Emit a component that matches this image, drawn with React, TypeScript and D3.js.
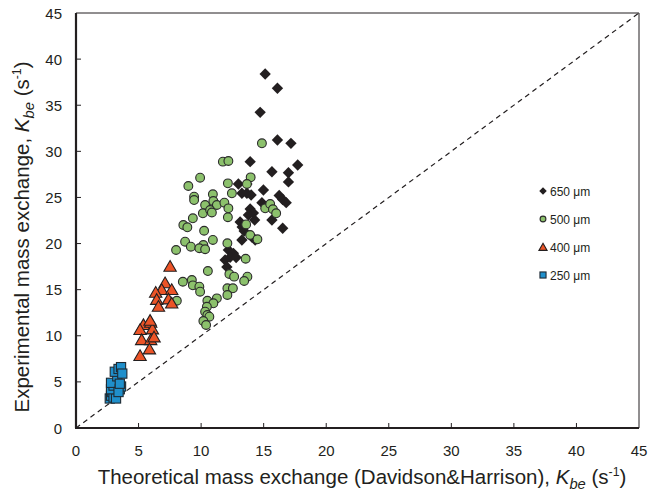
import * as d3 from 'd3'

const p650: [number, number][] = [
  [15.12, 38.39], [16.1, 36.84], [14.72, 34.23], [16.1, 31.23], [17.18, 30.87],
  [13.92, 28.88], [15.66, 27.79], [16.98, 27.68], [17.72, 28.52], [16.98, 26.68],
  [14.98, 25.81], [12.98, 26.46], [13.66, 26.46], [13.26, 25.45], [13.66, 25.45],
  [14.0, 25.27], [16.24, 25.21], [16.52, 24.78], [16.8, 24.43], [14.86, 24.43],
  [13.92, 23.75], [14.18, 23.31], [13.78, 23.1], [14.28, 22.55], [15.66, 22.55],
  [16.52, 21.66], [13.12, 22.34], [13.28, 21.8], [13.44, 21.36], [13.26, 20.39],
  [14.06, 20.71], [14.32, 20.39], [12.18, 19.3], [12.58, 18.94], [12.32, 18.51],
  [12.8, 18.49], [11.92, 18.22], [12.06, 17.46],
]

const p500: [number, number][] = [
  [14.86, 30.87], [11.74, 28.88], [12.18, 28.95], [9.92, 27.14], [13.96, 27.18],
  [8.98, 26.24], [12.14, 26.53], [13.66, 26.46], [9.44, 25.08], [9.44, 24.72],
  [10.94, 25.34], [12.46, 25.45], [10.32, 24.18], [10.98, 24.61], [11.26, 24.18],
  [11.86, 24.43], [12.18, 23.82], [10.14, 23.28], [10.72, 23.64], [10.86, 23.37],
  [9.34, 22.74], [8.58, 22.01], [8.9, 21.76], [12.14, 22.85], [10.24, 21.39],
  [8.72, 20.2], [9.18, 19.66], [10.18, 19.84], [9.86, 19.49], [10.32, 19.38],
  [10.94, 20.39], [12.1, 20.03], [8.0, 19.3], [13.6, 22.07], [13.92, 20.93],
  [14.5, 20.46], [13.56, 18.35], [10.54, 17.02], [12.26, 16.7], [12.64, 16.41],
  [13.7, 16.41], [13.44, 15.94], [8.54, 15.86], [9.26, 16.05], [9.34, 15.47],
  [9.86, 15.32], [9.92, 14.78], [12.1, 15.15], [12.54, 15.15], [12.1, 14.42],
  [11.26, 14.06], [10.5, 13.8], [10.98, 13.52], [10.46, 13.15], [10.32, 12.61],
  [10.5, 12.25], [10.66, 12.07], [10.18, 11.6], [10.4, 11.17], [8.06, 13.8],
  [15.12, 23.82], [15.52, 24.29], [15.74, 23.72], [16.0, 23.28],
]

const p400: [number, number][] = [
  [7.52, 17.5], [7.12, 15.7], [6.85, 14.97], [6.37, 14.67], [7.65, 14.97],
  [6.45, 13.9], [7.39, 13.95], [7.65, 13.5], [6.59, 13.15], [5.39, 11.17],
  [5.97, 11.42], [5.12, 10.63], [6.11, 10.7], [5.25, 9.54], [5.97, 9.54],
  [6.24, 9.83], [5.87, 8.53], [5.12, 7.81], [5.92, 11.63],
]

const p250: [number, number][] = [
  [2.7, 3.2], [2.8, 3.5], [2.9, 3.9], [3.0, 3.3], [3.2, 3.2], [2.8, 4.2],
  [3.0, 4.6], [2.8, 4.9], [3.5, 4.2], [3.6, 4.5], [3.4, 3.9], [3.3, 5.6],
  [3.1, 6.1], [3.4, 6.4], [3.6, 6.6], [3.7, 5.9], [3.5, 4.8],
]

const ticks = [0, 5, 10, 15, 20, 25, 30, 35, 40, 45]
const legendLabels = ['650 μm', '500 μm', '400 μm', '250 μm']

const W = 650
const H = 492
const font = 'Liberation Sans, Arial, sans-serif'
const ink = '#231f20'

const x = d3.scaleLinear().domain([0, 45]).range([76, 639])
const y = d3.scaleLinear().domain([0, 45]).range([428, 13])

const diamond = d3.symbol().type(d3.symbolDiamond2)
const tri = d3.symbol().type(d3.symbolTriangle)

function Marker({ kind, cx, cy, s = 1 }: { kind: number; cx: number; cy: number; s?: number }) {
  const t = `translate(${cx},${cy})`
  if (kind === 0) return <path transform={t} d={diamond.size(82 * s * s)()!} fill="#231f20" />
  if (kind === 1) return <circle cx={cx} cy={cy} r={4.4 * s} fill="#8cc16c" stroke="#2b2b2b" strokeWidth={1.1} />
  if (kind === 2) return <path transform={`translate(${cx},${cy + 1})`} d={tri.size(66 * s * s)()!} fill="#ec5427" stroke="#231f20" strokeWidth={1.1} />
  const h = 4.6 * s
  return <rect x={cx - h} y={cy - h} width={2 * h} height={2 * h} fill="#1f8fcb" stroke="#1e2a33" strokeWidth={1.1} />
}

function KbeUnit({ fs }: { fs: number }) {
  return (
    <>
      <tspan fontStyle="italic">K</tspan>
      <tspan fontStyle="italic" fontSize={fs * 0.72} dy={fs * 0.22}>be</tspan>
      <tspan dy={-fs * 0.22}> (s</tspan>
      <tspan fontSize={fs * 0.6} dy={-fs * 0.38}>-1</tspan>
      <tspan dy={fs * 0.38}>)</tspan>
    </>
  )
}

export default function App() {
  const series = [p650, p500, p400, p250]
  const fs = 20.5
  return (
    <svg width={W} height={H} style={{ display: 'block', position: 'absolute', left: 0, top: 0 }} fontFamily={font}>
      <rect width={W} height={H} fill="#fff" />
      {/* frame: thin top/right, heavy left/bottom */}
      <line x1={x(0)} x2={x(45)} y1={y(45)} y2={y(45)} stroke={ink} strokeWidth={1} />
      <line x1={x(45)} x2={x(45)} y1={y(45)} y2={y(0)} stroke={ink} strokeWidth={1} />
      <line x1={x(0) - 1} x2={x(45)} y1={y(0)} y2={y(0)} stroke={ink} strokeWidth={2.2} />
      <line x1={x(0)} x2={x(0)} y1={y(45)} y2={y(0)} stroke={ink} strokeWidth={2.2} />
      {ticks.map(t => (
        <g key={t}>
          {t > 0 && t < 45 && <line x1={x(t)} x2={x(t)} y1={y(0)} y2={y(0) - 5} stroke={ink} strokeWidth={1} />}
          {t > 0 && t < 45 && <line x1={x(0)} x2={x(0) + 5} y1={y(t)} y2={y(t)} stroke={ink} strokeWidth={1} />}
          <text x={x(t)} y={456} textAnchor="middle" fontSize={15} fill={ink}>{t}</text>
          <text x={62} y={y(t) + 5.5} textAnchor="end" fontSize={15} fill={ink}>{t}</text>
        </g>
      ))}
      <line x1={x(0)} y1={y(0)} x2={x(45)} y2={y(45)} stroke={ink} strokeWidth={1.2} strokeDasharray="5,4" />
      {series.map((pts, k) =>
        pts.map((d, i) => <Marker key={`${k}-${i}`} kind={k} cx={x(d[0])} cy={y(d[1])} />)
      )}
      {legendLabels.map((l, i) => (
        <g key={l}>
          <Marker kind={i} cx={543} cy={191 + i * 28} s={0.66} />
          <text x={550} y={195.5 + i * 28} fontSize={12} fill={ink}>{l}</text>
        </g>
      ))}
      <text x={362} y={484} textAnchor="middle" fontSize={fs} fill={ink}>
        Theoretical mass exchange (Davidson&amp;Harrison),{' '}
        <KbeUnit fs={fs} />
      </text>
      <text transform={`translate(29,237) rotate(-90)`} textAnchor="middle" fontSize={fs} fill={ink}>
        Experimental mass exchange,{' '}
        <KbeUnit fs={fs} />
      </text>
    </svg>
  )
}
